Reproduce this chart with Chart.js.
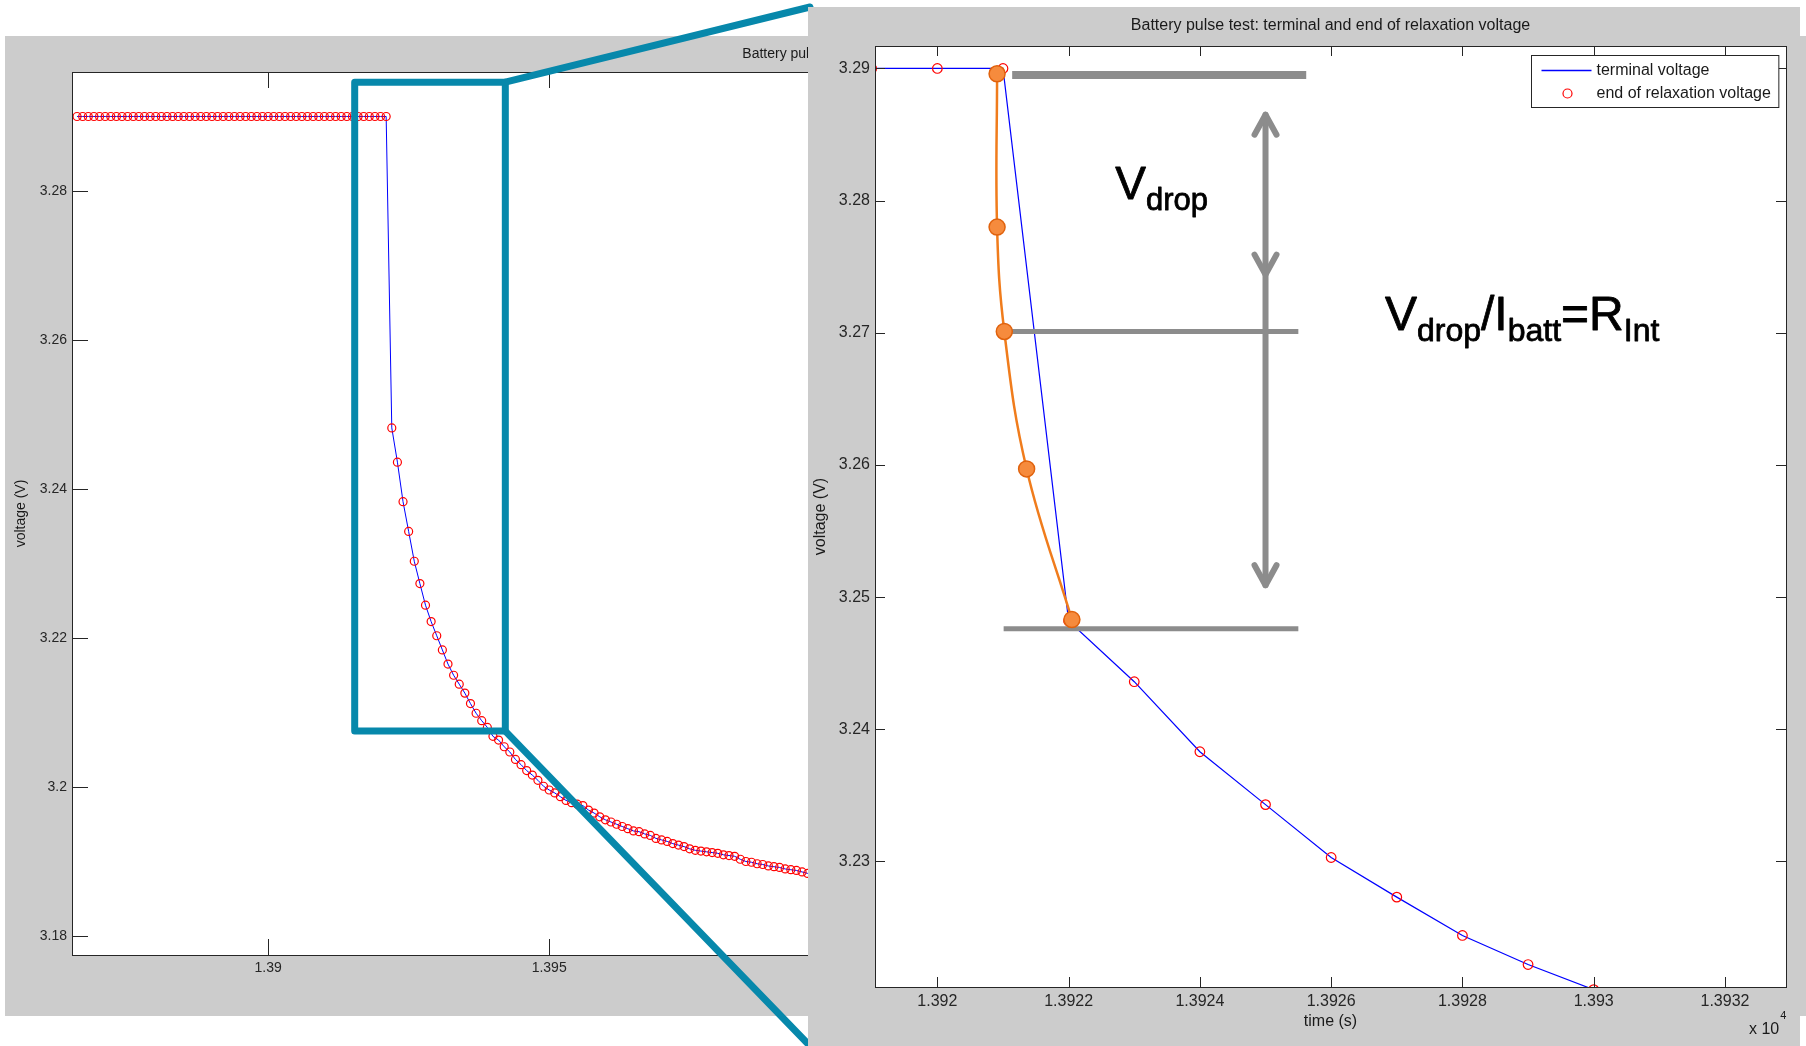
<!DOCTYPE html>
<html>
<head>
<meta charset="utf-8">
<script src="https://cdn.jsdelivr.net/npm/chart.js@4.4.1/dist/chart.umd.min.js"></script>
<style>
  html, body { margin: 0; padding: 0; background: #fff; }
  #wrap { position: relative; width: 1806px; height: 1046px; overflow: hidden; }
  canvas { position: absolute; display: block; }
  #overview { left: 0; top: 0; }
  #zoom { left: 808px; top: 7px; }
</style>
</head>
<body>
<div id="wrap">
  <canvas id="overview" width="1806" height="1046"></canvas>
  <canvas id="zoom" width="992" height="1039"></canvas>
</div>
<script>
// ---- datos (tiempo en s, voltaje en V) ----
const restTime = [13866, 13867, 13868, 13869, 13870, 13871, 13872, 13873, 13874, 13875, 13876, 13877, 13878, 13879,
  13880, 13881, 13882, 13883, 13884, 13885, 13886, 13887, 13888, 13889, 13890, 13891, 13892, 13893,
  13894, 13895, 13896, 13897, 13898, 13899, 13900, 13901, 13902, 13903, 13904, 13905, 13906, 13907,
  13908, 13909, 13910, 13911, 13912, 13913, 13914, 13915, 13916, 13917, 13918, 13919, 13920, 13921];
const restVoltage = [3.29, 3.29, 3.29, 3.29, 3.29, 3.29, 3.29, 3.29, 3.29, 3.29, 3.29, 3.29, 3.29, 3.29,
  3.29, 3.29, 3.29, 3.29, 3.29, 3.29, 3.29, 3.29, 3.29, 3.29, 3.29, 3.29, 3.29, 3.29,
  3.29, 3.29, 3.29, 3.29, 3.29, 3.29, 3.29, 3.29, 3.29, 3.29, 3.29, 3.29, 3.29, 3.29,
  3.29, 3.29, 3.29, 3.29, 3.29, 3.29, 3.29, 3.29, 3.29, 3.29, 3.29, 3.29, 3.29, 3.29];
const pulseTime = [13922, 13923, 13924, 13925, 13926, 13927, 13928, 13929, 13930, 13931, 13932, 13933, 13934,
  13935, 13936, 13937, 13938, 13939, 13940, 13941, 13942, 13943, 13944, 13945, 13946, 13947, 13948,
  13949, 13950, 13951, 13952, 13953, 13954, 13955, 13956, 13957, 13958, 13959, 13960, 13961, 13962,
  13963, 13964, 13965, 13966, 13967, 13968, 13969, 13970, 13971, 13972, 13973, 13974, 13975, 13976,
  13977, 13978, 13979, 13980, 13981, 13982, 13983, 13984, 13985, 13986, 13987, 13988, 13989, 13990,
  13991, 13992, 13993, 13994, 13995, 13996, 13997];
const pulseVoltage = [3.2482, 3.2436, 3.2383, 3.2343, 3.2303, 3.2273, 3.2244, 3.2222, 3.2203, 3.2184, 3.2165, 3.2150, 3.2138,
  3.2126, 3.2112, 3.2099, 3.2089, 3.2080, 3.2068, 3.2063, 3.2054, 3.2047, 3.2037, 3.2030, 3.2022, 3.2016, 3.2009,
  3.2001, 3.1996, 3.1992, 3.1987, 3.1982, 3.1979, 3.1977, 3.1975, 3.1969, 3.1965, 3.1960, 3.1956, 3.1953, 3.1950,
  3.1947, 3.1944, 3.1941, 3.1940, 3.1937, 3.1935, 3.1931, 3.1929, 3.1927, 3.1924, 3.1922, 3.1920, 3.1917, 3.1915,
  3.1914, 3.1913, 3.1912, 3.1911, 3.1909, 3.1908, 3.1907, 3.1903, 3.1900, 3.1899, 3.1897, 3.1896, 3.1894, 3.1893,
  3.1892, 3.1890, 3.1889, 3.1888, 3.1886, 3.1884, 3.1883];

// ticks de cada panel
const xTicksOverview = [13900, 13950, 14000, 14050, 14100, 14150];
const yTicksOverview = [3.18, 3.2, 3.22, 3.24, 3.26, 3.28];
const xTicksZoom = [13920, 13922, 13924, 13926, 13928, 13930, 13932];
const yTicksZoom = [3.23, 3.24, 3.25, 3.26, 3.27, 3.28, 3.29];

// recuadro de zoom sobre el panel izquierdo
const zoomBoxTime = [13915.4, 13942.2];
const zoomBoxVolt = [3.2075, 3.2946];

// anotaciones del panel derecho
const fitTime = [13920.91, 13920.91, 13921.02, 13921.36, 13922.05];
const fitVolt = [3.2896, 3.2780, 3.2701, 3.2597, 3.2483];
const levelStart = [13921.14, 13921.01, 13921.01];
const levelEnd = [13925.62, 13925.50, 13925.50];
const levelVolt = [3.2895, 3.2701, 3.2476];
const arrowTime = 13925.0;
const arrowVolt = [3.2865, 3.2744, 3.2509]; // punta arriba, punta intermedia, punta abajo
const vdropAnchor = [13922.71, 3.2801];
const ratioAnchor = [13926.82, 3.2702];
const vdropText = [['V', 'main'], ['drop', 'sub']];
const ratioText = [['V', 'main'], ['drop', 'sub'], ['/', 'main'], ['I', 'main'], ['batt', 'sub'], ['=', 'main'], ['R', 'main'], ['Int', 'sub']];

const TITLE = 'Battery pulse test: terminal and end of relaxation voltage';
const FONT = '"Liberation Sans", Arial, Helvetica, sans-serif';
const INK = '#262626';

Chart.defaults.font.family = FONT;

const allTime = restTime.concat(pulseTime);
const allVolt = restVoltage.concat(pulseVoltage);
const series = allTime.map((t, i) => ({ x: t, y: allVolt[i] }));

// ==========================================
// ejes estilo MATLAB: fondo gris, caja, ticks hacia dentro
// ==========================================
const matlabAxes = {
  id: 'matlabAxes',
  beforeDraw(chart, args, o) {
    const ctx = chart.ctx, a = chart.chartArea;
    ctx.save();
    ctx.fillStyle = '#ffffff';
    ctx.fillRect(0, 0, chart.width, chart.height);
    ctx.fillStyle = '#cccccc';
    ctx.fillRect(o.panel[0], o.panel[1], o.panel[2] - o.panel[0], o.panel[3] - o.panel[1]);
    ctx.fillStyle = '#ffffff';
    ctx.fillRect(a.left, a.top, a.right - a.left, a.bottom - a.top);
    ctx.restore();
  },
  afterDatasetsDraw(chart, args, o) {
    const ctx = chart.ctx, a = chart.chartArea;
    const xs = chart.scales.x, ys = chart.scales.y;
    const L = o.tickLen;
    ctx.save();
    ctx.strokeStyle = INK;
    ctx.lineWidth = 1;
    ctx.beginPath();
    xs.ticks.forEach(tk => {
      const px = Math.round(xs.getPixelForValue(tk.value)) + 0.5;
      ctx.moveTo(px, a.bottom); ctx.lineTo(px, a.bottom - L);
      ctx.moveTo(px, a.top); ctx.lineTo(px, a.top + L);
    });
    ys.ticks.forEach(tk => {
      const py = Math.round(ys.getPixelForValue(tk.value)) + 0.5;
      ctx.moveTo(a.left, py); ctx.lineTo(a.left + L, py);
      ctx.moveTo(a.right, py); ctx.lineTo(a.right - L, py);
    });
    ctx.stroke();
    ctx.strokeRect(Math.round(a.left) + 0.5, Math.round(a.top) + 0.5, Math.round(a.right - a.left), Math.round(a.bottom - a.top));

    // textos
    const cx = (a.left + a.right) / 2;
    ctx.fillStyle = '#1a1a1a';
    ctx.textBaseline = 'middle';
    ctx.textAlign = 'center';
    ctx.font = o.fontSize + 'px ' + FONT;
    ctx.fillText(TITLE, cx, o.titleY);
    ctx.fillText(o.xLabel, cx, a.bottom + o.xLabelGap);
    ctx.save();
    ctx.translate(o.yLabelX, (a.top + a.bottom) / 2);
    ctx.rotate(-Math.PI / 2);
    ctx.fillText(o.yLabel, 0, 0);
    ctx.restore();

    if (o.exponent) {
      ctx.textAlign = 'left';
      const ex = a.right - 37;
      ctx.fillText('x 10', ex, a.bottom + 43);
      const w = ctx.measureText('x 10').width;
      ctx.font = '11px ' + FONT;
      ctx.fillText(o.exponent, ex + w + 1, a.bottom + 29);
    }

    // leyenda dentro de los ejes
    if (o.legend) {
      const items = chart.data.datasets.filter(d => d.inLegend);
      ctx.font = o.fontSize + 'px ' + FONT;
      const tw = Math.max(...items.map(d => ctx.measureText(d.label).width));
      const w = 65 + tw + 8, h = 52;
      const bx = Math.round(a.right - 8 - w) + 0.5, by = Math.round(a.top + 9) + 0.5;
      ctx.fillStyle = '#ffffff';
      ctx.fillRect(bx, by, w, h);
      ctx.strokeStyle = INK;
      ctx.strokeRect(bx, by, w, h);
      items.forEach((d, i) => {
        const cy = by + 15 + i * 23;
        if (d.showLine) {
          ctx.strokeStyle = d.borderColor;
          ctx.lineWidth = 1.3;
          ctx.beginPath(); ctx.moveTo(bx + 10, cy); ctx.lineTo(bx + 60, cy); ctx.stroke();
        } else {
          ctx.strokeStyle = d.borderColor;
          ctx.lineWidth = 1.2;
          ctx.beginPath(); ctx.arc(bx + 36, cy, 4.5, 0, Math.PI * 2); ctx.stroke();
        }
        ctx.fillStyle = '#1a1a1a';
        ctx.textAlign = 'left';
        ctx.fillText(d.label, bx + 65, cy);
      });
    }
    ctx.restore();
  }
};

// recuadro azul y lineas hacia el panel ampliado
const zoomWindow = {
  id: 'zoomWindow',
  afterDatasetsDraw(chart) {
    const ctx = chart.ctx, xs = chart.scales.x, ys = chart.scales.y;
    const l = xs.getPixelForValue(zoomBoxTime[0]), r = xs.getPixelForValue(zoomBoxTime[1]);
    const t = ys.getPixelForValue(zoomBoxVolt[1]), b = ys.getPixelForValue(zoomBoxVolt[0]);
    const target = document.getElementById('zoom');
    const tx = target.offsetLeft, ty = target.offsetTop, th = target.offsetHeight;
    ctx.save();
    ctx.strokeStyle = '#0788ab';
    ctx.lineWidth = 7;
    ctx.lineJoin = 'round';
    ctx.lineCap = 'round';
    ctx.strokeRect(l, t, r - l, b - t);
    ctx.beginPath();
    ctx.moveTo(r, t); ctx.lineTo(tx + 2, ty);
    ctx.moveTo(r, b); ctx.lineTo(tx + 2, ty + th);
    ctx.stroke();
    ctx.restore();
  }
};

// flechas y textos de la caida de voltaje
function drawRich(ctx, parts, x0, baseline, mainSize, subSize) {
  let x = x0;
  parts.forEach(([txt, kind]) => {
    const sub = kind === 'sub';
    ctx.font = (sub ? subSize : mainSize) + 'px ' + FONT;
    ctx.fillText(txt, x, baseline + (sub ? 11 : 0));
    ctx.strokeText(txt, x, baseline + (sub ? 11 : 0));
    x += ctx.measureText(txt).width;
  });
}

function chevron(ctx, x, tipY, dir) {
  ctx.beginPath();
  ctx.moveTo(x - 11, tipY - dir * 20);
  ctx.lineTo(x, tipY);
  ctx.lineTo(x + 11, tipY - dir * 20);
  ctx.stroke();
}

const dropNotes = {
  id: 'dropNotes',
  afterDatasetsDraw(chart) {
    const ctx = chart.ctx, xs = chart.scales.x, ys = chart.scales.y;
    ctx.save();
    ctx.strokeStyle = '#8c8c8c';
    ctx.lineWidth = 6;
    ctx.lineCap = 'round';
    ctx.lineJoin = 'round';
    const ax = xs.getPixelForValue(arrowTime);
    chevron(ctx, ax, ys.getPixelForValue(arrowVolt[0]), -1);
    chevron(ctx, ax, ys.getPixelForValue(arrowVolt[1]), 1);
    chevron(ctx, ax, ys.getPixelForValue(arrowVolt[2]), 1);

    ctx.fillStyle = '#000000';
    ctx.strokeStyle = '#000000';
    ctx.lineWidth = 0.8;
    ctx.textAlign = 'left';
    ctx.textBaseline = 'alphabetic';
    drawRich(ctx, vdropText, xs.getPixelForValue(vdropAnchor[0]), ys.getPixelForValue(vdropAnchor[1]), 46, 31);
    drawRich(ctx, ratioText, xs.getPixelForValue(ratioAnchor[0]), ys.getPixelForValue(ratioAnchor[1]), 48, 32);
    ctx.restore();
  }
};

function axisX(min, max, ticks, size, height) {
  return {
    type: 'linear', min: min, max: max,
    grid: { display: false, drawTicks: false }, border: { display: false },
    afterBuildTicks: s => { s.ticks = ticks.map(v => ({ value: v })); },
    afterFit: s => { s.height = height; },
    ticks: { autoSkip: false, maxRotation: 0, padding: 5, color: INK, font: { size: size },
      callback: v => String(+(v / 1e4).toFixed(4)) }
  };
}

function axisY(min, max, ticks, size, width) {
  return {
    type: 'linear', min: min, max: max,
    grid: { display: false, drawTicks: false }, border: { display: false },
    afterBuildTicks: s => { s.ticks = ticks.map(v => ({ value: v })); },
    afterFit: s => { s.width = width; },
    ticks: { autoSkip: false, padding: 5, color: INK, font: { size: size },
      callback: v => String(+v.toFixed(2)) }
  };
}

// ==========================================
// panel izquierdo: vista general del pulso
// ==========================================
new Chart(document.getElementById('overview'), {
  type: 'scatter',
  data: {
    datasets: [
      { label: 'terminal voltage', data: series, showLine: true, borderColor: '#0000ff', borderWidth: 1,
        pointRadius: 0, order: 2, clip: 0 },
      { label: 'end of relaxation voltage', data: series, showLine: false, borderColor: '#ff0000',
        backgroundColor: 'rgba(0,0,0,0)', pointRadius: 4, pointBorderWidth: 1.2, order: 1, clip: 0 }
    ]
  },
  options: {
    responsive: false, animation: false, events: [], devicePixelRatio: 1,
    layout: { padding: { left: 0, top: 72, right: 44, bottom: 51 } },
    scales: {
      x: axisX(13865.1, 14165.8, xTicksOverview, 14, 40),
      y: axisY(3.17745, 3.29597, yTicksOverview, 14, 72)
    },
    plugins: {
      legend: { display: false },
      tooltip: { enabled: false },
      matlabAxes: { panel: [5, 36, 1806, 1016], tickLen: 16, fontSize: 14, titleY: 54,
        xLabel: 'time (s)', xLabelGap: 36, yLabel: 'voltage (V)', yLabelX: 21 }
    }
  },
  plugins: [matlabAxes, zoomWindow]
});

// ==========================================
// panel derecho: ampliacion con anotaciones
// ==========================================
const levelSets = levelVolt.map((v, i) => ({
  label: 'level ' + i,
  data: [{ x: levelStart[i], y: v }, { x: levelEnd[i], y: v }],
  showLine: true, borderColor: '#8c8c8c', borderWidth: i === 0 ? 8 : 5, borderCapStyle: 'butt',
  pointRadius: 0, order: 1
}));

new Chart(document.getElementById('zoom'), {
  type: 'scatter',
  data: {
    datasets: [
      { label: 'terminal voltage', inLegend: true, data: series, showLine: true, borderColor: '#0000ff',
        borderWidth: 1.2, pointRadius: 0, order: 3, clip: 0 },
      { label: 'end of relaxation voltage', inLegend: true, data: series, showLine: false, borderColor: '#ff0000',
        backgroundColor: 'rgba(0,0,0,0)', pointRadius: 4.8, pointBorderWidth: 1.2, order: 2, clip: 0 },
      { label: 'fit', data: fitTime.map((t, i) => ({ x: t, y: fitVolt[i] })), showLine: true, tension: 0.4,
        borderColor: '#f07c1c', borderWidth: 2.5, pointRadius: 8, pointBackgroundColor: '#f68b3d',
        pointBorderColor: '#e0620d', pointBorderWidth: 1.5, order: 0 },
      ...levelSets,
      { label: 'arrow', data: [{ x: arrowTime, y: arrowVolt[0] }, { x: arrowTime, y: arrowVolt[2] }],
        showLine: true, borderColor: '#8c8c8c', borderWidth: 6, borderCapStyle: 'round', pointRadius: 0, order: 1 }
    ]
  },
  options: {
    responsive: false, animation: false, events: [], devicePixelRatio: 1,
    layout: { padding: { left: 0, top: 39, right: 14, bottom: 19 } },
    scales: {
      x: axisX(13919.05, 13932.93, xTicksZoom, 16, 40),
      y: axisY(3.2205, 3.2917, yTicksZoom, 16, 67)
    },
    plugins: {
      legend: { display: false },
      tooltip: { enabled: false },
      matlabAxes: { panel: [0, 0, 992, 1039], tickLen: 10, fontSize: 16, titleY: 19,
        xLabel: 'time (s)', xLabelGap: 35, yLabel: 'voltage (V)', yLabelX: 13, exponent: '4', legend: true }
    }
  },
  plugins: [matlabAxes, dropNotes]
});
</script>
</body>
</html>
